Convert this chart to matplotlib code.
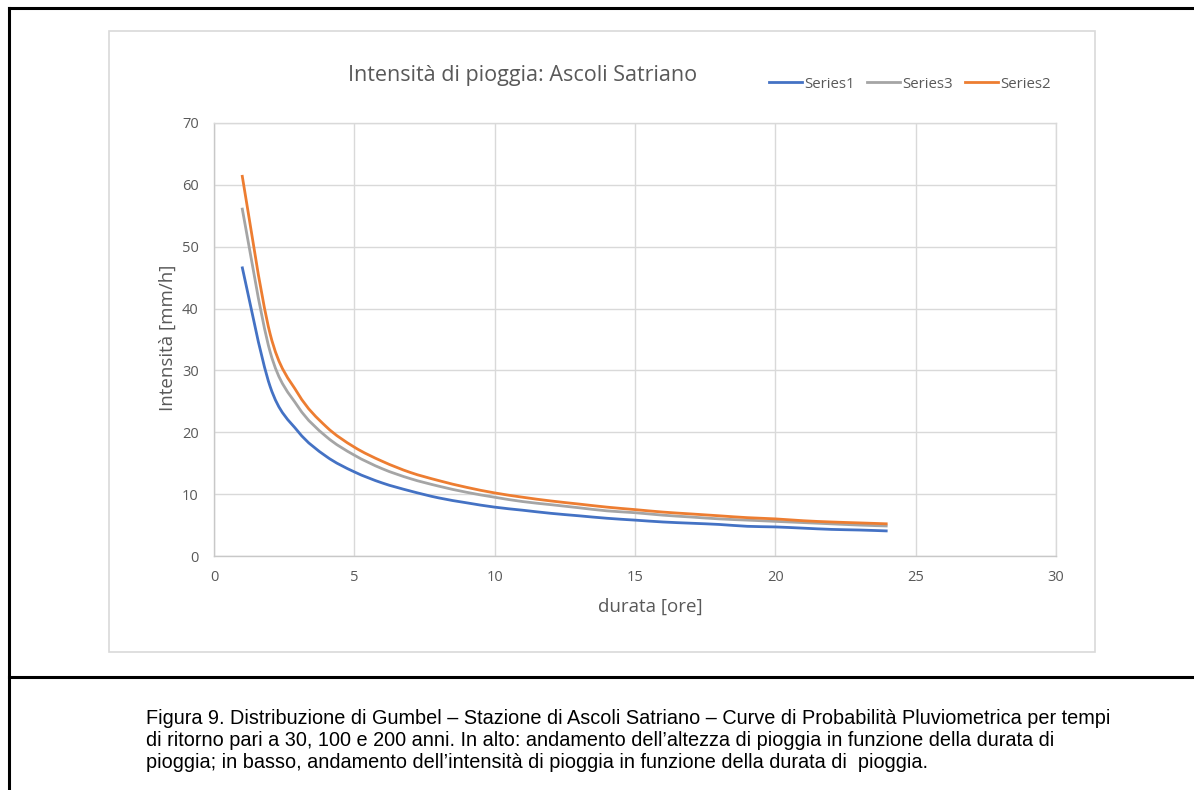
import matplotlib
matplotlib.use('Agg')
import matplotlib.pyplot as plt
from matplotlib import font_manager
from matplotlib.lines import Line2D
from matplotlib.patches import Rectangle, PathPatch
from matplotlib.path import Path

# durata [ore] and intensity values
durata = [1, 2, 3, 4, 5, 6, 7, 8, 9, 10, 11, 12, 13, 14, 15, 16, 17, 18, 19, 20, 21, 22, 23, 24]
series1 = [46.8, 27.4, 20.1, 16.1, 13.6, 11.8, 10.5, 9.4, 8.6, 7.9, 7.4, 6.9,
           6.5, 6.1, 5.8, 5.5, 5.3, 5.1, 4.8, 4.7, 4.5, 4.3, 4.2, 4.05]
series3 = [56.3, 33.0, 24.1, 19.3, 16.3, 14.1, 12.5, 11.3, 10.3, 9.5, 8.8, 8.3,
           7.8, 7.3, 7.0, 6.6, 6.3, 6.0, 5.8, 5.6, 5.4, 5.2, 5.0, 4.85]
series2 = [61.6, 35.9, 26.2, 20.9, 17.6, 15.3, 13.5, 12.2, 11.1, 10.2, 9.5, 8.9,
           8.4, 7.9, 7.5, 7.1, 6.8, 6.5, 6.2, 6.0, 5.7, 5.5, 5.35, 5.2]

names = ['Series1', 'Series3', 'Series2']
colors = ['#4472C4', '#A5A5A5', '#ED7D31']

title = 'Intensità di pioggia: Ascoli Satriano'
caption = ['Figura 9. Distribuzione di Gumbel \u2013 Stazione di Ascoli Satriano \u2013 Curve di Probabilità Pluviometrica per tempi',
           'di ritorno pari a 30, 100 e 200 anni. In alto: andamento dell\u2019altezza di pioggia in funzione della durata di',
           'pioggia; in basso, andamento dell\u2019intensità di pioggia in funzione della durata di  pioggia.']


def smooth_path(x, y):
    # excel-style smoothed line: bezier segments through the data points
    verts = [(x[0], y[0])]
    codes = [Path.MOVETO]
    n = len(x)
    for i in range(n - 1):
        x0, y0 = (x[i - 1], y[i - 1]) if i > 0 else (x[i], y[i])
        x3, y3 = (x[i + 2], y[i + 2]) if i + 2 < n else (x[i + 1], y[i + 1])
        c1 = (x[i] + (x[i + 1] - x0) / 6, y[i] + (y[i + 1] - y0) / 6)
        c2 = (x[i + 1] - (x3 - x[i]) / 6, y[i + 1] - (y3 - y[i]) / 6)
        verts += [c1, c2, (x[i + 1], y[i + 1])]
        codes += [Path.CURVE4] * 3
    return Path(verts, codes)


# regular (not narrow) Liberation Sans for the caption
arial = None
for f in font_manager.fontManager.ttflist:
    if f.name == 'Liberation Sans' and f.style == 'normal' and f.weight in (400, 'normal') \
            and 'Narrow' not in f.fname:
        arial = font_manager.FontProperties(fname=f.fname, size=14.3)
        break
if arial is None:
    arial = font_manager.FontProperties(family='DejaVu Sans', size=12.5)

W, H = 1194, 790
fig = plt.figure(figsize=(W / 100, H / 100), dpi=100)
txt = '#595959'
grid = '#D9D9D9'

# outer black box + separator
fig.add_artist(Line2D([9 / W, 9 / W], [0, 1 - 8 / H], color='black', lw=2.2))
fig.add_artist(Line2D([9 / W, 1], [1 - 8 / H, 1 - 8 / H], color='black', lw=2.2))
fig.add_artist(Line2D([9 / W, 1], [1 - 677 / H, 1 - 677 / H], color='black', lw=2.2))

# chart area frame
fig.add_artist(Rectangle((109 / W, 1 - 652 / H), 986 / W, 621 / H, fill=False,
                         edgecolor=grid, lw=1.2))

ax = fig.add_axes([214 / W, 1 - 556 / H, 842 / W, 433 / H])
for y, c, n in zip([series1, series3, series2], colors, names):
    ax.add_patch(PathPatch(smooth_path(durata, y), facecolor='none', edgecolor=c,
                           lw=2, capstyle='butt'))
    ax.plot([], [], color=c, lw=2, label=n)

ax.set_xlim(0, 30)
ax.set_ylim(0, 70)
ax.set_xticks(range(0, 31, 5))
ax.set_yticks(range(0, 71, 10))
ax.grid(True, color=grid, lw=1)
ax.set_axisbelow(True)
for s in ax.spines.values():
    s.set_color(grid)
    s.set_linewidth(1)
ax.spines['bottom'].set_color('#C8C8C8')
ax.spines['left'].set_color('#C8C8C8')
ax.tick_params(length=0, labelcolor=txt, labelsize=10.5)
ax.tick_params(axis='x', pad=10)
ax.tick_params(axis='y', pad=11)
for lab in ax.get_xticklabels() + ax.get_yticklabels():
    lab.set_fontfamily('Open Sans')

fig.text(650 / W, 1 - 607 / H, 'durata [ore]', ha='center', va='center', fontsize=13.5,
         color=txt, family='Open Sans')
fig.text(168 / W, 1 - 338 / H, 'Intensità [mm/h]', ha='center', va='center', fontsize=13.5,
         color=txt, family='Open Sans', rotation=90)

fig.text(523 / W, 1 - 75 / H, title, ha='center', va='center', fontsize=15.5,
         color=txt, family='Open Sans')

leg = ax.legend(loc='center', bbox_to_anchor=(910 / W, 1 - 84 / H),
                bbox_transform=fig.transFigure, ncol=3, frameon=False,
                handlelength=2.2, handletextpad=0.15, columnspacing=0.8,
                prop={'family': 'Open Sans', 'size': 10.8})
for t in leg.get_texts():
    t.set_color(txt)

for i, line in enumerate(caption):
    fig.text(146 / W, 1 - (718 + 22 * i) / H, line, ha='left', va='center',
             color='black', fontproperties=arial)

fig.savefig('out.png', dpi=100, facecolor='white')
